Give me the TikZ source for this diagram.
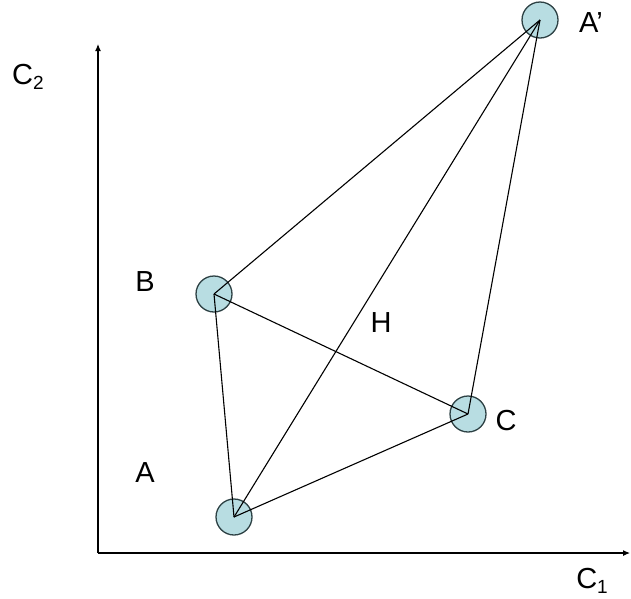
\documentclass[tikz,border=0pt]{standalone}
\usepackage{fontspec}
\usetikzlibrary{arrows.meta}
\setmainfont{Liberation Sans}
\definecolor{ballfill}{RGB}{184,221,226}
\definecolor{balledge}{RGB}{45,65,68}
\begin{document}
\begin{tikzpicture}[x=1pt,y=-1pt,
  ball/.style={circle,draw=balledge,fill=ballfill,line width=1.3pt,minimum size=36pt,inner sep=0pt},
  lbl/.style={font=\fontsize{29}{34}\selectfont,inner sep=0pt},
  edge/.style={draw=black,line width=1.1pt},
  axis/.style={draw=black,line width=1.1pt,-{Latex[length=7pt,width=6pt]}}]
\useasboundingbox[fill=white] (0,0) rectangle (631,598);
% axes
\coordinate (O) at (98,553);
\coordinate (Ytop) at (98,44);
\coordinate (Xend) at (630,553);
\draw[axis] (O) -- (Ytop);
\draw[axis] (O) -- (Xend);
% balls
\node[ball] (Ap) at (540,20) {};
\node[ball] (B) at (214,294) {};
\node[ball] (C) at (468,414) {};
\node[ball] (A) at (234,517) {};
% edges
\draw[edge] (Ap.center) -- (B.center);
\draw[edge] (Ap.center) -- (A.center);
\draw[edge] (Ap.center) -- (C.center);
\draw[edge] (B.center) -- (A.center);
\draw[edge] (B.center) -- (C.center);
\draw[edge] (A.center) -- (C.center);
% labels
\node[lbl] (lAp) at (591,23) {A’};
\node[lbl] (lB) at (145,282) {B};
\node[lbl] (lH) at (381,323) {H};
\node[lbl] (lC) at (506,421) {C};
\node[lbl] (lA) at (145,473) {A};
\node[lbl] (lC2) at (28,77) {C\raisebox{-0.35ex}{\fontsize{19}{22}\selectfont 2}};
\node[lbl] (lC1) at (592,581) {C\raisebox{-0.35ex}{\fontsize{19}{22}\selectfont 1}};
\end{tikzpicture}
\end{document}
